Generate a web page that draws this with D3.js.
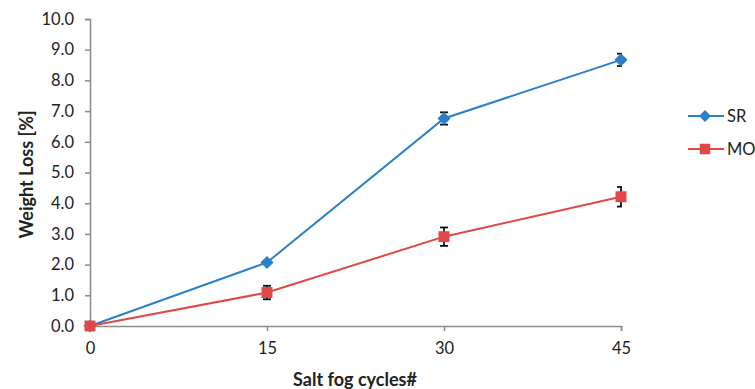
<!DOCTYPE html>
<html>
<head>
<meta charset="utf-8">
<script src="https://cdn.jsdelivr.net/npm/d3@7"></script>
<style>
  body { margin: 0; background: #fff; }
  text { font-family: Lato, "Open Sans", sans-serif; fill: #222; }
</style>
</head>
<body>
<svg width="755" height="389"></svg>
<script>
const svg = d3.select('svg');

// data
const cycles = [0, 15, 30, 45];
const srValues = [0, 2.07, 6.76, 8.67];
const srErrors = [0, 0.05, 0.2, 0.2];
const moValues = [0, 1.09, 2.91, 4.21];
const moErrors = [0, 0.22, 0.3, 0.32];
const yTicks = [0, 1, 2, 3, 4, 5, 6, 7, 8, 9, 10];

const series = [
  { name: 'SR', values: srValues, errors: srErrors, color: '#2b80c8', shape: d3.symbolDiamond2 },
  { name: 'MO', values: moValues, errors: moErrors, color: '#e04848', shape: d3.symbolSquare }
];

const margin = { top: 19, right: 134, bottom: 63, left: 90 };
const width = 755 - margin.left - margin.right;
const height = 389 - margin.top - margin.bottom;

const x = d3.scaleLinear().domain([0, 45]).range([0, width]);
const y = d3.scaleLinear().domain([0, 10]).range([height, 0]);

const g = svg.append('g').attr('transform', `translate(${margin.left},${margin.top})`);

// clip for error bars (Excel clips them to the plot area)
svg.append('defs').append('clipPath').attr('id', 'plot-clip')
  .append('rect').attr('x', 0).attr('y', -5).attr('width', width + 1).attr('height', height + 10);

// axes
const xAxis = g.append('g')
  .attr('transform', `translate(0,${height})`)
  .call(d3.axisBottom(x).tickValues(cycles).tickSize(5).tickPadding(11));
const yAxis = g.append('g')
  .call(d3.axisLeft(y).tickValues(yTicks).tickFormat(d3.format('.1f')).tickSize(5).tickPadding(11));

[xAxis, yAxis].forEach(ax => {
  ax.select('.domain').attr('stroke', '#8a8a8a').attr('stroke-width', 1.5);
  ax.selectAll('.tick line').attr('stroke', '#8a8a8a').attr('stroke-width', 1.5);
  ax.selectAll('.tick text').style('font-size', '16.5px').attr('fill', '#222');
});

// axis titles
svg.append('text')
  .attr('transform', `translate(28,${margin.top + height / 2 + 2}) rotate(-90)`)
  .attr('text-anchor', 'middle')
  .attr('dominant-baseline', 'middle')
  .style('font-size', '18px').style('font-weight', 'bold')
  .text('Weight Loss [%]');

svg.append('text')
  .attr('x', 355).attr('y', 386)
  .attr('text-anchor', 'middle')
  .style('font-size', '18px').style('font-weight', 'bold')
  .text('Salt fog cycles#');

const line = d3.line()
  .x((d, i) => x(cycles[i]))
  .y(d => y(d));

// lines
series.forEach(s => {
  g.append('path')
    .datum(s.values)
    .attr('fill', 'none')
    .attr('stroke', s.color)
    .attr('stroke-width', 2)
    .attr('d', line);
});

// error bars
series.forEach(s => {
  const eb = g.append('g').attr('clip-path', 'url(#plot-clip)');
  s.values.forEach((v, i) => {
    const e = s.errors[i];
    if (e <= 0) return;
    const cx = x(cycles[i]);
    eb.append('line')
      .attr('x1', cx).attr('x2', cx)
      .attr('y1', y(v + e)).attr('y2', y(v - e))
      .attr('stroke', '#111').attr('stroke-width', 1.8);
    [v + e, v - e].forEach(val => {
      eb.append('line')
        .attr('x1', cx - 4).attr('x2', cx + 4)
        .attr('y1', y(val)).attr('y2', y(val))
        .attr('stroke', '#111').attr('stroke-width', 1.8);
    });
  });
});

// markers
series.forEach(s => {
  g.selectAll(null)
    .data(s.values)
    .enter()
    .append('path')
    .attr('transform', (d, i) => `translate(${x(cycles[i])},${y(d)})`)
    .attr('d', d3.symbol().type(s.shape).size(s.name === 'SR' ? 110 : 120))
    .attr('fill', s.color);
});

// legend
const legend = svg.append('g').attr('transform', 'translate(688,116)');
series.forEach((s, i) => {
  const row = legend.append('g').attr('transform', `translate(0,${i * 33})`);
  row.append('line')
    .attr('x1', 0).attr('x2', 36)
    .attr('stroke', s.color).attr('stroke-width', 2);
  row.append('path')
    .attr('transform', 'translate(17,0)')
    .attr('d', d3.symbol().type(s.shape).size(s.name === 'SR' ? 90 : 110))
    .attr('fill', s.color);
  row.append('text')
    .attr('x', 39).attr('dy', '0.35em')
    .style('font-size', '16.5px')
    .text(s.name);
});
</script>
</body>
</html>
